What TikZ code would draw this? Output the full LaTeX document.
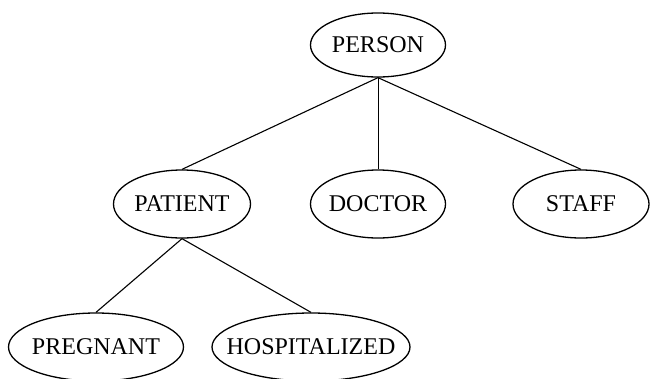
\documentclass[tikz,border=0pt]{standalone}
\usepackage{fontspec}
\setmainfont{Liberation Serif}
\usetikzlibrary{shapes.geometric}
\newcommand{\zw}[1]{\makebox[0pt]{#1}}
\begin{document}
\begin{tikzpicture}[x=1pt,y=-1pt,
  ent/.style={draw,ellipse,line width=1.3pt,inner sep=0pt,font=\fontsize{24}{26}\selectfont},
  link/.style={line width=1.1pt}]
\useasboundingbox (0,0) rectangle (651,378);
\node[ent,minimum width=135,minimum height=64] (person) at (378,45) {\zw{PERSON}};
\node[ent,minimum width=137,minimum height=68] (patient) at (182,204) {\zw{PATIENT}};
\node[ent,minimum width=135,minimum height=68] (doctor) at (378,204) {\zw{DOCTOR}};
\node[ent,minimum width=136,minimum height=68] (staff) at (581,204) {\zw{STAFF}};
\node[ent,minimum width=175,minimum height=68] (pregnant) at (96,347) {\zw{PREGNANT}};
\node[ent,minimum width=198,minimum height=68] (hosp) at (311,347) {\zw{HOSPITALIZED}};
\draw[link] (person.south) -- (patient.north);
\draw[line width=0.8pt] (person.south) -- (doctor.north);
\draw[link] (person.south) -- (staff.north);
\draw[link] (patient.south) -- (pregnant.north);
\draw[link] (patient.south) -- (hosp.north);
\end{tikzpicture}
\end{document}
